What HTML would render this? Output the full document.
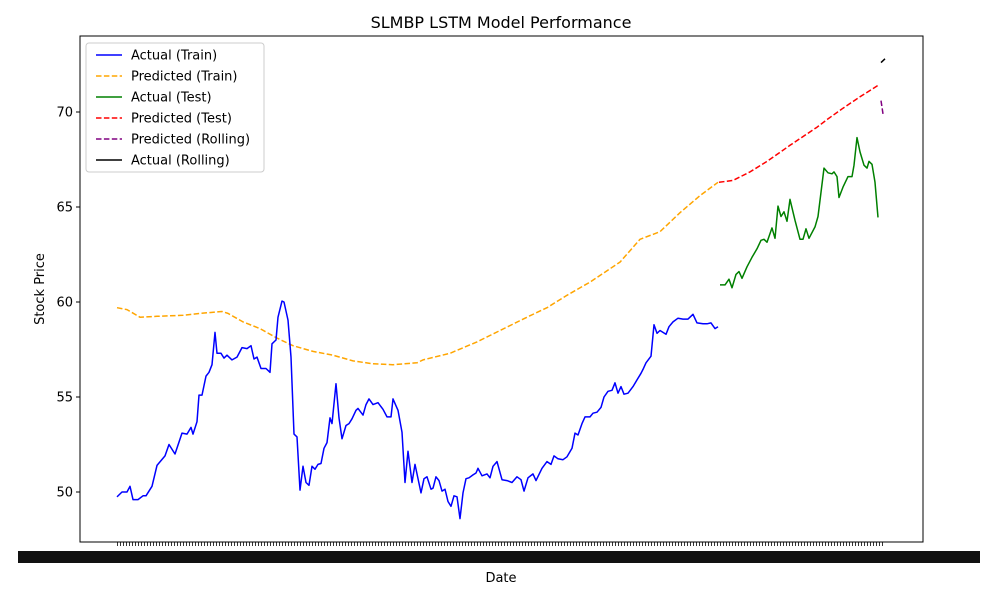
<!DOCTYPE html>
<html><head><meta charset="utf-8"><style>
body{margin:0;background:#fff;}
svg{display:block;font-family:"DejaVu Sans","Liberation Sans",sans-serif;}
</style></head><body>
<svg id="chart" width="1000" height="600" viewBox="0 0 1000 600" xmlns="http://www.w3.org/2000/svg">
<rect width="1000" height="600" fill="#fff"/>
<text x="501" y="28" font-size="16" text-anchor="middle">SLMBP LSTM Model Performance</text>
<g id="ticks"></g>
<g id="series"></g>
<rect x="80" y="36" width="843" height="506" fill="none" stroke="#000" stroke-width="1"/>
<rect x="18" y="551" width="962" height="12" fill="#111"/>
<text x="501" y="582" font-size="13" text-anchor="middle">Date</text>
<text x="44" y="289" font-size="13" text-anchor="middle" transform="rotate(-90 44 289)">Stock Price</text>
<g>
<rect x="86" y="43" width="178" height="129" rx="3" fill="#fff" fill-opacity="0.8" stroke="#ccc"/>
<g id="legend-items"></g>
</g>
</svg>
<script>
const trainDays=[0,5,10,13,16,21,26,29,35,40,48,52,58,65,70,74,76,80,82,85,89,92,95,98,100,104,107,110,115,120,125,130,134,137,140,144,149,153,155,159,161,165,167,171,174,177,180,183,186,189,192,195,198,201,204,207,210,213,215,219,222,225,229,232,235,239,241,246,249,252,256,261,266,270,274,276,281,285,288,291,295,298,304,307,310,314,316,319,322,325,328,331,334,337,340,343,346,349,352,356,359,361,365,370,373,376,380,385,390,395,400,404,407,411,416,419,425,430,434,437,441,446,450,455,458,461,465,468,473,476,480,484,487,491,495,498,501,504,507,511,516,520,524,526,529,534,537,540,543,549,552,556,561,566,571,576,580,586,590,594,598,601];
const trainActual=[49.74,50.0,50.0,50.3,49.6,49.6,49.8,49.8,50.3,51.4,51.9,52.5,52.0,53.1,53.05,53.4,53.05,53.7,55.1,55.1,56.1,56.3,56.7,58.4,57.3,57.3,57.05,57.2,56.95,57.1,57.6,57.55,57.7,57.0,57.1,56.5,56.5,56.3,57.8,58.0,59.2,60.05,60.0,59.05,57.1,53.05,52.9,50.1,51.35,50.5,50.35,51.35,51.2,51.45,51.5,52.3,52.6,53.9,53.6,55.7,53.9,52.8,53.5,53.6,53.85,54.3,54.4,54.05,54.6,54.9,54.6,54.7,54.35,53.95,53.95,54.9,54.3,53.15,50.5,52.15,50.5,51.45,49.95,50.7,50.8,50.15,50.2,50.8,50.6,50.05,50.15,49.5,49.25,49.8,49.75,48.6,49.95,50.7,50.75,50.9,51.0,51.25,50.85,50.95,50.75,51.35,51.6,50.65,50.6,50.5,50.8,50.65,50.05,50.75,50.95,50.6,51.25,51.6,51.45,51.9,51.75,51.7,51.85,52.3,53.1,53.0,53.6,53.95,53.95,54.15,54.2,54.45,55.0,55.3,55.35,55.75,55.2,55.55,55.15,55.2,55.55,55.9,56.25,56.45,56.8,57.15,58.8,58.35,58.5,58.3,58.7,58.95,59.15,59.1,59.1,59.35,58.9,58.85,58.85,58.9,58.6,58.7];
const predTrainDays=[0,10,23,40,66,83,105,111,126,143,160,176,196,216,236,256,276,300,306,333,360,383,410,430,450,473,503,523,543,563,583,601];
const predTrain=[59.7,59.6,59.2,59.25,59.3,59.4,59.5,59.4,58.95,58.6,58.1,57.7,57.4,57.2,56.9,56.75,56.7,56.8,56.95,57.3,57.9,58.5,59.2,59.7,60.35,61.05,62.1,63.3,63.7,64.7,65.6,66.3];
const testDays=[603,608,612,615,619,622,625,630,635,640,644,647,650,655,658,661,664,667,670,673,678,683,686,689,692,698,701,707,711,715,717,720,722,726,731,735,737,740,743,747,750,752,755,758,761];
const testActual=[60.9,60.9,61.2,60.75,61.45,61.6,61.25,61.85,62.35,62.8,63.25,63.3,63.15,63.9,63.35,65.05,64.5,64.75,64.25,65.4,64.3,63.3,63.3,63.85,63.35,63.95,64.5,67.05,66.8,66.75,66.85,66.6,65.5,66.05,66.6,66.6,67.2,68.65,67.9,67.2,67.05,67.4,67.25,66.3,64.45];
const predTestDays=[602,616,633,650,673,700,710,726,743,761];
const predTest=[66.3,66.4,66.85,67.4,68.25,69.2,69.6,70.2,70.8,71.4];
const rollDays=[764,766];
const predRolling=[70.6,69.9];
const actRollDays=[764,768];
const actRolling=[72.6,72.8];
const yTicks=[50,55,60,65,70];

const NS="http://www.w3.org/2000/svg";
const xS=d=>117+d;
const yS=v=>492-(v-50)*19;
const series=document.getElementById('series');
const ticks=document.getElementById('ticks');
function mk(tag,attrs,parent){const e=document.createElementNS(NS,tag);for(const k in attrs)e.setAttribute(k,attrs[k]);parent.appendChild(e);return e;}
function line(days,vals,color,dash,name){
  const n=Math.min(days.length,vals.length);
  let d='';
  for(let i=0;i<n;i++)d+=(i?'L':'M')+xS(days[i]).toFixed(1)+','+yS(vals[i]).toFixed(1);
  const p=mk('path',{d:d,fill:'none',stroke:color,'stroke-width':1.5,'stroke-linejoin':'round'},series);
  if(dash)p.setAttribute('stroke-dasharray','5.5,2.4');
  
  
}
line(predTrainDays,predTrain,'#ffa500',true,'predicted-train-line');
line(trainDays,trainActual,'#0000ff',false,'actual-train-line');
line(testDays,testActual,'#008000',false,'actual-test-line');
line(predTestDays,predTest,'#ff0000',true,'predicted-test-line');
line(rollDays,predRolling,'#800080',true,'predicted-rolling-line');
line(actRollDays,actRolling,'#000000',false,'actual-rolling-line');

yTicks.forEach(v=>{
  const t=mk('line',{x1:76,x2:80,y1:yS(v),y2:yS(v),stroke:'#000'},ticks);
  
  
  const l=mk('text',{x:73,y:yS(v)+4.5,'font-size':13,'text-anchor':'end'},ticks);
  l.textContent=v;
  
  
});
for(let d=0;d<=767;d+=3){
  const t=mk('line',{x1:xS(d)+0.5,x2:xS(d)+0.5,y1:542,y2:546,stroke:'#000','stroke-width':0.8},ticks);
  
  
}
const leg=document.getElementById('legend-items');
const items=[['Actual (Train)','#0000ff',false],['Predicted (Train)','#ffa500',true],['Actual (Test)','#008000',false],['Predicted (Test)','#ff0000',true],['Predicted (Rolling)','#800080',true],['Actual (Rolling)','#000000',false]];
items.forEach((it,i)=>{
  const y=55+i*21;
  const g=mk('g',{},leg);
  
  
  const l=mk('line',{x1:96,x2:122,y1:y,y2:y,stroke:it[1],'stroke-width':1.5},g);
  if(it[2])l.setAttribute('stroke-dasharray','5.5,2.4');
  const t=mk('text',{x:131,y:y+4.5,'font-size':13},g);
  t.textContent=it[0];
});
</script>
</body></html>
